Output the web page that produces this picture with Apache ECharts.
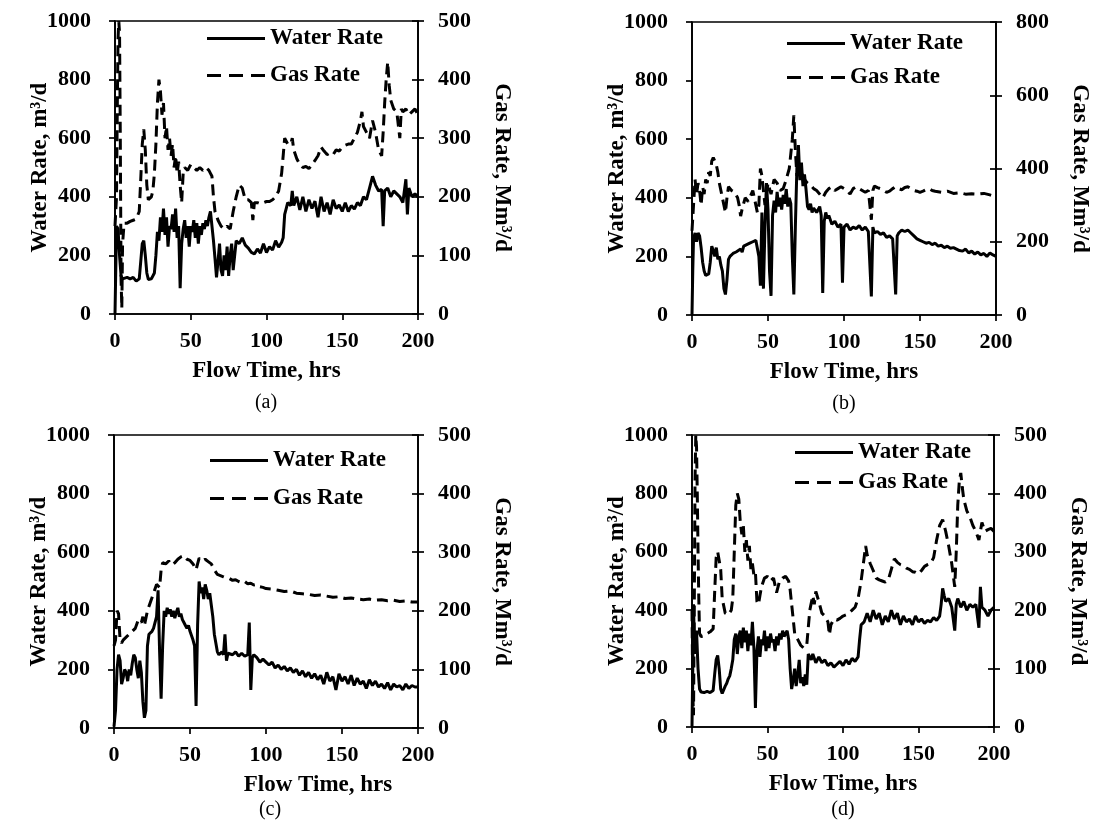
<!DOCTYPE html>
<html>
<head>
<meta charset="utf-8">
<script src="https://cdn.jsdelivr.net/npm/echarts@6/dist/echarts.min.js"></script>
<style>
  html, body { margin: 0; padding: 0; background: #fff; }
  #chart { width: 1094px; height: 832px; }
</style>
</head>
<body>
<div id="chart"></div>
<script>
// Flow-test rates: [flow time (hrs), rate]. Water in m³/d, gas in Mm³/d.
const waterA = [[0,0],[1,300],[2,290],[3,200],[4,130],[5,120],[6,118],[8,125],[10,120],[12,125],[14,112],[16,120],[17,180],[18,240],[19,250],[20,200],[21,140],[22,118],[24,120],[26,140],[27,200],[28,280],[29,250],[30,330],[31,280],[32,360],[33,270],[34,330],[35,230],[36,300],[37,290],[38,340],[39,280],[40,360],[41,260],[42,300],[43,88],[44,240],[45,290],[46,320],[47,260],[48,300],[49,230],[50,300],[51,280],[52,320],[53,260],[54,310],[55,240],[56,300],[57,270],[58,310],[59,290],[60,320],[61,300],[62,330],[63,350],[64,300],[65,250],[66,190],[67,125],[68,180],[69,240],[70,150],[71,130],[72,200],[73,150],[74,230],[75,130],[76,200],[77,240],[78,150],[79,200],[80,250],[82,240],[84,260],[86,235],[88,225],[90,210],[92,205],[94,222],[96,208],[98,240],[100,210],[102,230],[104,218],[106,250],[108,228],[110,245],[111,260],[112,340],[113,360],[114,380],[116,370],[117,420],[118,370],[120,400],[122,355],[124,400],[126,350],[128,390],[130,360],[132,385],[134,330],[136,400],[138,350],[140,380],[142,340],[144,390],[146,360],[148,372],[150,350],[152,380],[154,350],[156,370],[158,358],[160,380],[162,370],[164,400],[166,390],[168,430],[170,470],[172,440],[174,420],[176,425],[177,300],[178,420],[180,430],[182,400],[184,420],[186,410],[188,400],[190,380],[192,460],[193,340],[194,430],[196,400],[198,410],[200,400]];
const gasA = [[0,150],[1,200],[1.5,350],[2,470],[2.5,500],[3,480],[3.5,300],[4,60],[4.5,10],[5,120],[6,155],[8,155],[10,158],[12,160],[14,162],[16,175],[17,230],[18,290],[19,315],[20,280],[21,220],[22,195],[24,200],[25,210],[26,240],[27,290],[28,360],[29,400],[30,380],[31,340],[32,360],[33,300],[34,320],[35,280],[36,300],[37,270],[38,290],[39,250],[40,270],[41,240],[42,260],[43,220],[44,190],[45,240],[46,250],[48,245],[50,255],[52,250],[54,245],[56,250],[58,245],[60,250],[62,245],[63,240],[64,235],[65,200],[66,175],[68,160],[70,150],[72,145],[74,150],[76,145],[78,175],[80,200],[82,220],[84,215],[86,195],[88,195],[90,190],[91,160],[92,190],[94,190],[96,188],[98,190],[100,192],[102,192],[104,195],[106,200],[108,210],[110,240],[111,270],[112,300],[114,290],[116,290],[117,300],[118,280],[120,265],[122,255],[124,250],[126,252],[128,248],[130,255],[132,262],[134,270],[136,285],[138,278],[140,272],[142,275],[144,272],[146,280],[148,278],[150,285],[152,288],[154,290],[156,290],[158,300],[160,310],[162,330],[163,345],[164,320],[166,310],[168,300],[170,330],[172,310],[174,280],[176,270],[177,310],[178,360],[179,400],[180,430],[181,390],[182,365],[184,350],[186,345],[188,300],[189,350],[190,345],[192,350],[194,340],[196,345],[198,350],[200,340]];

const waterB = [[0,0],[0.5,150],[1,260],[2,280],[3,250],[4,280],[5,270],[6,230],[7,180],[8,150],[9,135],[10,130],[11,140],[12,180],[13,235],[14,220],[15,200],[16,230],[17,190],[18,200],[19,170],[20,150],[21,90],[22,70],[23,120],[24,190],[25,200],[26,195],[27,210],[28,205],[29,215],[30,210],[32,225],[33,215],[34,235],[36,240],[38,245],[40,250],[42,255],[43,260],[44,200],[45,100],[46,350],[47,90],[48,300],[49,450],[50,360],[51,150],[52,65],[53,340],[54,390],[55,350],[56,420],[57,370],[58,400],[59,360],[60,410],[61,380],[62,430],[63,370],[64,400],[65,380],[66,200],[67,70],[68,300],[69,500],[70,580],[71,460],[72,520],[73,440],[74,480],[75,430],[76,370],[77,360],[78,380],[79,350],[80,365],[82,350],[84,370],[85,340],[86,75],[87,320],[88,350],[89,330],[90,340],[92,310],[94,320],[96,300],[98,310],[99,110],[100,300],[102,310],[104,290],[106,300],[108,295],[110,305],[112,290],[114,300],[116,285],[117,290],[118,63],[119,300],[120,280],[122,285],[124,275],[126,280],[128,265],[130,270],[132,260],[134,70],[135,270],[136,280],[138,290],[140,285],[142,290],[144,280],[146,270],[148,260],[150,255],[152,250],[154,245],[156,248],[158,240],[160,245],[162,235],[164,238],[166,230],[168,235],[170,228],[172,230],[174,225],[176,220],[178,218],[180,225],[182,212],[184,218],[186,208],[188,215],[190,205],[192,210],[194,200],[196,212],[198,205],[200,200]];
const gasB = [[0,230],[1,300],[2,370],[3,330],[4,360],[5,340],[6,300],[7,350],[8,330],[9,370],[10,360],[11,390],[12,380],[13,420],[14,430],[15,420],[16,410],[17,390],[18,360],[19,340],[20,320],[21,300],[22,280],[23,320],[24,350],[25,345],[26,340],[28,335],[30,320],[31,300],[32,270],[33,290],[35,320],[37,310],[39,330],[40,340],[42,300],[43,280],[44,300],[45,400],[46,380],[47,340],[48,300],[49,330],[50,360],[52,330],[54,370],[56,360],[58,340],[60,345],[62,370],[64,400],[66,480],[67,545],[68,450],[69,380],[70,400],[72,390],[74,370],[76,360],[78,355],[80,345],[82,340],[84,330],[86,320],[88,335],[90,345],[92,350],[94,340],[96,345],[98,350],[100,345],[102,340],[104,330],[106,345],[108,350],[110,345],[112,340],[114,335],[116,340],[117,300],[118,260],[119,340],[120,352],[122,348],[124,345],[126,340],[128,335],[130,338],[132,345],[134,350],[136,345],[138,342],[140,348],[142,350],[144,345],[146,340],[148,338],[150,335],[152,338],[154,342],[156,345],[158,340],[160,338],[164,335],[168,338],[172,332],[176,334],[180,330],[184,331],[188,330],[192,332],[196,328],[198,325],[200,320]];

const waterC = [[0,5],[1,60],[2,200],[3,250],[4,230],[5,150],[6,170],[7,200],[8,190],[9,160],[10,200],[11,180],[12,220],[13,250],[14,240],[15,200],[16,170],[17,230],[18,190],[19,90],[20,35],[21,60],[22,280],[23,320],[24,325],[25,330],[26,340],[27,345],[28,380],[29,470],[30,260],[31,100],[32,280],[33,400],[34,380],[35,410],[36,390],[37,405],[38,380],[39,400],[40,375],[41,395],[42,410],[43,380],[44,390],[45,370],[46,360],[47,350],[48,340],[49,350],[50,330],[51,325],[52,300],[53,280],[54,75],[55,350],[56,500],[57,460],[58,480],[59,440],[60,490],[61,470],[62,440],[63,460],[64,420],[65,380],[66,320],[67,290],[68,260],[69,250],[70,255],[71,260],[72,250],[73,320],[74,230],[75,255],[76,260],[78,250],[80,260],[82,245],[84,255],[86,245],[88,250],[89,360],[90,130],[91,240],[92,250],[94,240],[96,225],[98,235],[100,225],[102,215],[104,225],[106,205],[108,215],[110,200],[112,210],[114,195],[116,205],[118,190],[120,200],[122,180],[124,195],[126,175],[128,190],[130,170],[132,185],[134,165],[136,180],[138,150],[140,190],[142,160],[144,175],[146,130],[148,185],[150,160],[152,175],[154,150],[156,180],[158,145],[160,170],[162,150],[164,160],[166,135],[168,165],[170,145],[172,160],[174,140],[176,150],[178,135],[180,155],[182,130],[184,150],[186,140],[188,145],[190,130],[192,150],[194,135],[196,145],[198,140],[200,140]];
const gasC = [[0,140],[1,150],[2,200],[3,195],[4,150],[5,145],[6,150],[8,155],[10,160],[12,165],[14,170],[16,185],[18,180],[19,190],[20,175],[22,200],[24,215],[26,230],[28,245],[30,240],[31,270],[32,282],[34,280],[36,285],[38,278],[40,282],[42,288],[44,292],[46,294],[48,288],[50,286],[52,280],[54,270],[55,280],[56,290],[58,285],[60,288],[62,284],[64,280],[66,270],[68,262],[70,260],[72,258],[74,256],[76,255],[78,252],[80,253],[82,250],[84,248],[86,250],[88,246],[90,247],[92,244],[94,245],[96,241],[98,240],[100,238],[104,237],[108,235],[112,233],[116,234],[120,230],[124,229],[128,228],[132,226],[136,227],[140,225],[144,223],[148,224],[152,221],[156,222],[160,220],[164,219],[168,220],[172,218],[176,219],[180,217],[184,218],[188,216],[192,217],[196,215],[200,215]];

const waterD = [[0,0],[0.5,200],[1,420],[1.5,300],[2,250],[3,330],[4,200],[5,130],[6,120],[7,125],[8,118],[10,122],[12,118],[13,115],[14,125],[15,180],[16,230],[17,245],[18,200],[19,130],[20,115],[21,118],[22,140],[23,150],[24,165],[25,175],[26,200],[27,230],[28,300],[29,320],[30,250],[31,310],[32,330],[33,270],[34,340],[35,290],[36,330],[37,260],[38,320],[39,280],[40,360],[41,270],[42,65],[43,260],[44,310],[45,240],[46,300],[47,280],[48,330],[49,260],[50,310],[51,270],[52,320],[53,290],[54,300],[55,260],[56,310],[57,280],[58,320],[59,300],[60,330],[61,310],[62,320],[63,330],[64,300],[65,200],[66,130],[67,160],[68,200],[69,140],[70,180],[71,230],[72,150],[73,170],[74,140],[75,180],[76,145],[77,250],[78,240],[79,230],[80,250],[82,220],[84,240],[86,220],[88,230],[90,210],[92,220],[94,205],[96,215],[98,225],[100,210],[102,230],[104,215],[106,235],[108,225],[110,240],[111,300],[112,350],[114,360],[116,390],[118,360],[120,400],[122,370],[124,390],[126,350],[128,380],[130,360],[132,400],[134,370],[136,390],[138,350],[140,380],[142,360],[144,370],[146,350],[148,380],[150,360],[152,370],[154,355],[156,365],[158,360],[160,375],[162,365],[164,380],[165,420],[166,475],[167,450],[168,430],[170,440],[172,410],[174,330],[175,420],[176,440],[178,410],[180,430],[182,400],[184,420],[186,410],[188,420],[190,340],[191,480],[192,410],[194,400],[196,380],[198,400],[200,410]];
const gasD = [[0,200],[0.5,60],[1,20],[1.5,200],[2,420],[2.5,500],[3,480],[3.5,400],[4,300],[4.5,220],[5,160],[6,155],[8,156],[10,160],[12,163],[14,168],[15,230],[16,290],[17,300],[18,285],[19,270],[20,220],[22,195],[24,192],[26,200],[27,220],[28,300],[29,380],[30,400],[31,390],[32,350],[33,330],[34,345],[35,300],[36,320],[37,285],[38,310],[39,270],[40,280],[41,260],[42,265],[43,215],[44,210],[45,225],[46,240],[48,255],[50,258],[52,250],[54,255],[56,230],[58,250],[60,255],[62,258],[64,250],[65,235],[66,210],[67,185],[68,160],[70,150],[72,140],[74,135],[76,140],[78,200],[80,225],[81,210],[82,232],[84,215],[86,195],[88,190],[90,180],[91,158],[92,175],[94,185],[96,183],[98,186],[100,190],[102,192],[104,196],[106,200],[108,205],[110,220],[112,250],[114,290],[115,310],[116,295],[118,280],[120,268],[122,255],[124,252],[126,250],[128,248],[130,252],[132,270],[134,288],[136,282],[138,278],[140,276],[142,272],[144,270],[146,266],[148,265],[150,262],[152,268],[154,275],[156,278],[158,280],[160,290],[162,320],[164,345],[166,355],[168,335],[170,310],[172,280],[174,240],[175,300],[176,380],[177,420],[178,435],[179,410],[180,390],[182,370],[184,360],[186,345],[188,335],[190,320],[192,350],[194,335],[196,338],[198,340],[200,335]];

// Axis ranges and captions
const timeTicks = { min: 0, max: 200, interval: 50 };
const waterScale = { min: 0, max: 1000, interval: 200 };
const gasScales = [
  { min: 0, max: 500, interval: 100 },
  { min: 0, max: 800, interval: 200 },
  { min: 0, max: 500, interval: 100 },
  { min: 0, max: 500, interval: 100 }
];
const captions = ['(a)', '(b)', '(c)', '(d)'];
const seriesNames = ['Water Rate', 'Gas Rate'];
const xTitle = 'Flow Time, hrs';
const waterTitle = 'Water Rate, m³/d';
const gasTitle = 'Gas Rate, Mm³/d';

const panelData = [
  { water: waterA, gas: gasA },
  { water: waterB, gas: gasB },
  { water: waterC, gas: gasC },
  { water: waterD, gas: gasD }
];

// Layout of the four panels
const FONT = 'Liberation Serif';
const panels = [
  { left: 115, top: 21, width: 303, height: 293, legendLeft: 207, legendTop: 27, legendGap: 14, xPad: 0, cap: [266, 403] },
  { left: 692, top: 22, width: 304, height: 293, legendLeft: 787, legendTop: 32, legendGap: 11, xPad: 0, cap: [844, 404] },
  { left: 114, top: 435, width: 304, height: 293, legendLeft: 210, legendTop: 449, legendGap: 15, xPad: 104, cap: [270, 810] },
  { left: 692, top: 435, width: 302, height: 292, legendLeft: 795, legendTop: 441, legendGap: 7, xPad: 0, cap: [843, 810] }
];

// Legend keys: a solid bar and three dashes
const solidKey = 'path://M0,0h58v3h-58z';
const dashKey = 'path://M0,0h14v3h-14z M22,0h14v3h-14z M44,0h14v3h-14z';

const black = '#000';
const axisLine = { show: true, lineStyle: { color: black, width: 1.7 } };
const tickOut = { show: true, inside: false, length: 6, lineStyle: { color: black, width: 1.7 } };
const plain = v => String(v);
const labelStyle = { color: black, fontFamily: FONT, fontWeight: 'bold', fontSize: 22, formatter: plain };
const nameStyle = { color: black, fontFamily: FONT, fontWeight: 'bold', fontSize: 23 };

const grid = [], xAxis = [], yAxis = [], series = [], legend = [], graphic = [];

panels.forEach((p, i) => {
  grid.push({
    left: p.left, top: p.top, width: p.width, height: p.height,
    show: true, borderColor: black, borderWidth: 1.7, backgroundColor: 'transparent'
  });
  xAxis.push({
    gridIndex: i, type: 'value', ...timeTicks,
    axisLine, axisTick: tickOut, splitLine: { show: false },
    axisLabel: { ...labelStyle, margin: 16 },
    name: xTitle, nameLocation: 'middle', nameGap: 46, nameMoveOverlap: false,
    nameTextStyle: { ...nameStyle, padding: [0, 0, 0, p.xPad] }
  });
  // left: water rate
  yAxis.push({
    gridIndex: i, type: 'value', position: 'left', ...waterScale,
    axisLine, axisTick: tickOut, splitLine: { show: false },
    axisLabel: { ...labelStyle, margin: 24 },
    name: waterTitle, nameLocation: 'middle', nameGap: 63, nameMoveOverlap: false,
    nameTextStyle: nameStyle
  });
  // right: gas rate
  yAxis.push({
    gridIndex: i, type: 'value', position: 'right', ...gasScales[i],
    axisLine, axisTick: tickOut, splitLine: { show: false },
    axisLabel: { ...labelStyle, margin: 20 },
    name: gasTitle, nameLocation: 'middle', nameGap: 72, nameRotate: -90, nameMoveOverlap: false,
    nameTextStyle: nameStyle
  });
  // right: inner half of the crossing ticks
  yAxis.push({
    gridIndex: i, type: 'value', position: 'right', ...gasScales[i],
    axisLine: { show: false }, axisLabel: { show: false }, splitLine: { show: false },
    axisTick: { show: true, inside: true, length: 6, lineStyle: { color: black, width: 1.7 } }
  });
  series.push({
    type: 'line', name: seriesNames[0], xAxisIndex: i, yAxisIndex: 3 * i,
    data: panelData[i].water, symbol: 'none', showSymbol: false, animation: false,
    lineStyle: { color: black, width: 3 }, itemStyle: { color: black }
  });
  series.push({
    type: 'line', name: seriesNames[1], xAxisIndex: i, yAxisIndex: 3 * i + 1,
    data: panelData[i].gas, symbol: 'none', showSymbol: false, animation: false,
    lineStyle: { color: black, width: 3, type: [11, 6] }, itemStyle: { color: black }
  });
  legend.push({
    data: [
      { name: seriesNames[0], icon: solidKey },
      { name: seriesNames[1], icon: dashKey }
    ],
    orient: 'vertical', left: p.legendLeft, top: p.legendTop,
    itemGap: p.legendGap, itemWidth: 58, itemHeight: 3, itemTextGap: 5,
    selectedMode: false, padding: 0,
    itemStyle: { color: black, borderWidth: 0 },
    textStyle: { color: black, fontFamily: FONT, fontWeight: 'bold', fontSize: 23, lineHeight: 23 }
  });
  graphic.push({
    type: 'text', x: p.cap[0], y: p.cap[1],
    style: { text: captions[i], fill: black, font: '20px ' + FONT, textAlign: 'center', textVerticalAlign: 'middle' }
  });
});

const chart = echarts.init(document.getElementById('chart'), null, { renderer: 'canvas' });
chart.setOption({
  animation: false,
  backgroundColor: '#fff',
  grid, xAxis, yAxis, series, legend, graphic
});
</script>
</body>
</html>
